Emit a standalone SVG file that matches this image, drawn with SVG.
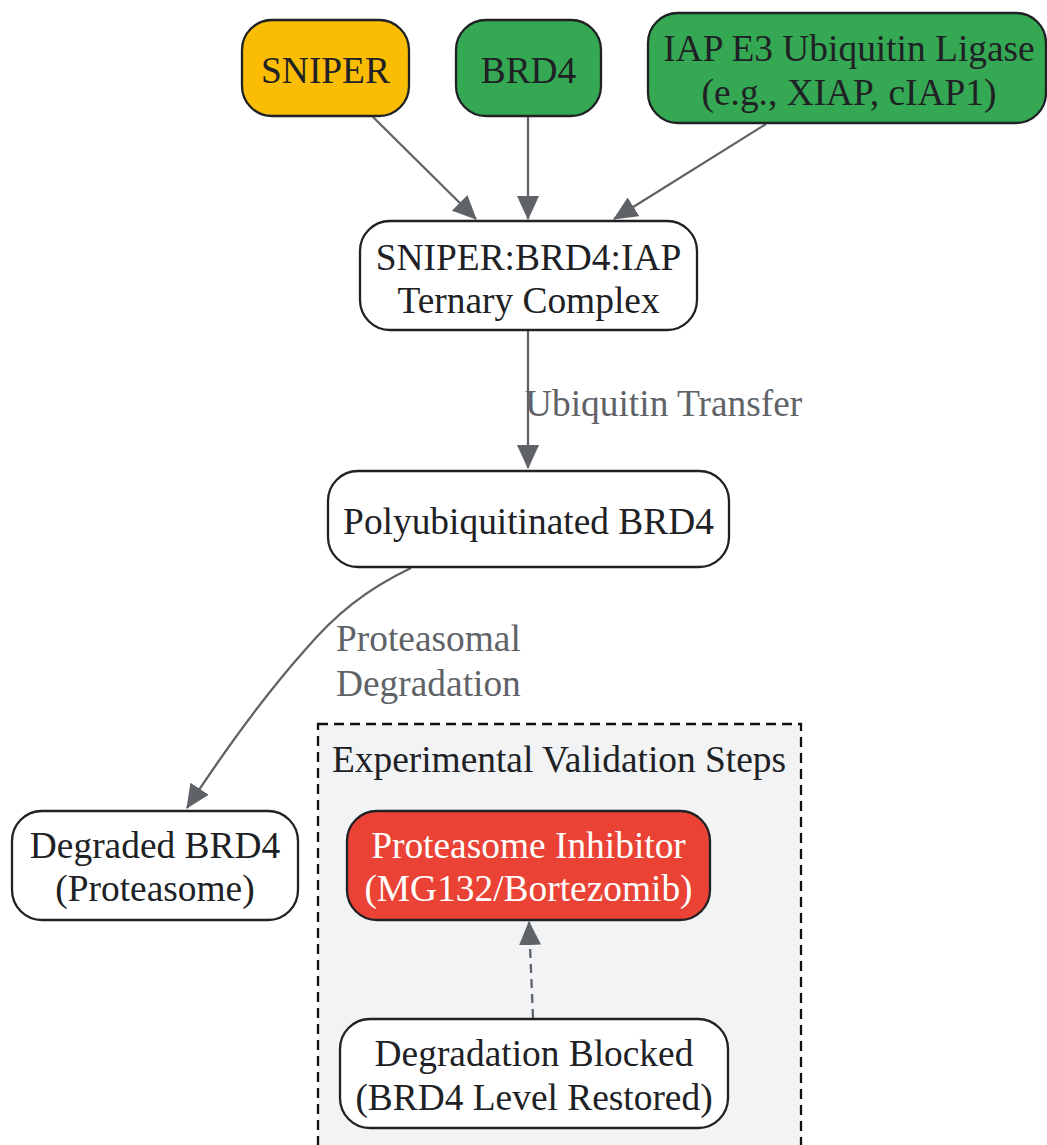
<svg xmlns="http://www.w3.org/2000/svg" width="1047" height="1145" viewBox="0 0 1047 1145">
<style>
.node rect{stroke:#202124;stroke-width:2.3}
.t{font-family:"Liberation Serif","Times New Roman",serif;font-size:37.4px;fill:#202124;text-anchor:middle}
.w{fill:#ffffff}
.lbl{font-family:"Liberation Serif","Times New Roman",serif;font-size:37.4px;fill:#5f6368}
.e{fill:none;stroke:#5f6368;stroke-width:2.3}
.d{stroke-dasharray:9,6}
</style>
<defs>
<marker id="ah" markerUnits="userSpaceOnUse" markerWidth="24" markerHeight="22" refX="23" refY="11" orient="auto">
<path d="M0,0 L24,11 L0,22 z" fill="#5f6368"/>
</marker>
</defs>
<g id="cluster">
<rect x="318" y="724" width="483" height="440" fill="#f1f3f4" stroke="#111" stroke-width="2.3" stroke-dasharray="10,6"/>
<text class="t" x="559" y="772">Experimental Validation Steps</text>
</g>
<g id="connectors">
<path class="e" d="M373,117 L476,219" marker-end="url(#ah)"/>
<path class="e" d="M528,116 L528,219" marker-end="url(#ah)"/>
<path class="e" d="M766,124 L614,219" marker-end="url(#ah)"/>
<path class="e" d="M528,331 L528,468" marker-end="url(#ah)"/>
<path class="e" d="M411,568 C365,590 335,615 305,650 C265,695 225,750 187,808" marker-end="url(#ah)"/>
<path class="e d" d="M533,1018 L529,922" marker-end="url(#ah)"/>
<text class="lbl" x="525" y="416">Ubiquitin Transfer</text>
<text class="lbl" x="336" y="651">Proteasomal</text>
<text class="lbl" x="336" y="696">Degradation</text>
</g>
<g id="sniper" class="node">
<rect x="242" y="20" width="167" height="96" rx="30" fill="#fbbc04"/>
<text class="t" x="325.5" y="83">SNIPER</text>
</g>
<g id="brd4" class="node">
<rect x="456" y="20" width="145" height="96" rx="30" fill="#34a853"/>
<text class="t" x="528.5" y="83">BRD4</text>
</g>
<g id="iap" class="node">
<rect x="648" y="13" width="398" height="110" rx="30" fill="#34a853"/>
<text class="t" x="849" y="61">IAP E3 Ubiquitin Ligase</text>
<text class="t" x="849" y="105">(e.g., XIAP, cIAP1)</text>
</g>
<g id="ternary" class="node">
<rect x="360" y="221" width="337" height="109" rx="30" fill="#ffffff"/>
<text class="t" x="528.5" y="270">SNIPER:BRD4:IAP</text>
<text class="t" x="528.5" y="313">Ternary Complex</text>
</g>
<g id="poly" class="node">
<rect x="328" y="471" width="401" height="96" rx="30" fill="#ffffff"/>
<text class="t" x="528.5" y="534">Polyubiquitinated BRD4</text>
</g>
<g id="degraded" class="node">
<rect x="12" y="811" width="286" height="109" rx="30" fill="#ffffff"/>
<text class="t" x="155" y="858">Degraded BRD4</text>
<text class="t" x="155" y="901">(Proteasome)</text>
</g>
<g id="inhibitor" class="node">
<rect x="347" y="811" width="363" height="109" rx="30" fill="#ea4335"/>
<text class="t w" x="528.5" y="858">Proteasome Inhibitor</text>
<text class="t w" x="528.5" y="901">(MG132/Bortezomib)</text>
</g>
<g id="blocked" class="node">
<rect x="340" y="1019" width="388" height="109" rx="30" fill="#ffffff"/>
<text class="t" x="534" y="1066">Degradation Blocked</text>
<text class="t" x="534" y="1110">(BRD4 Level Restored)</text>
</g>
</svg>
